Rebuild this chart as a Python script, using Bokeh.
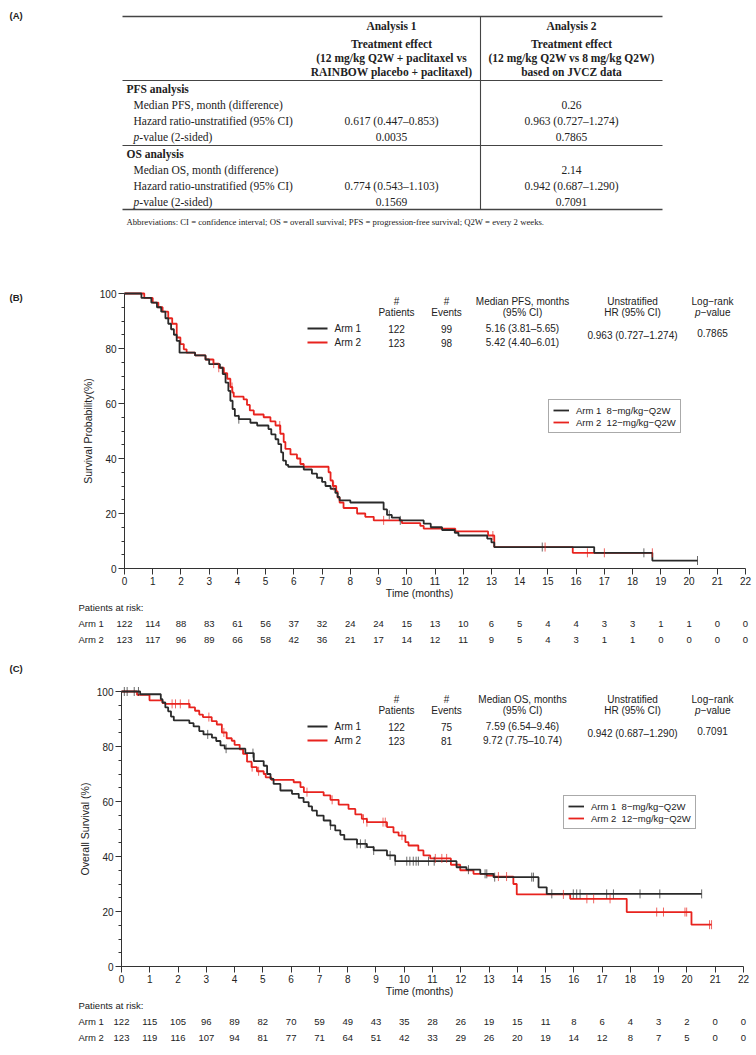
import math
from bokeh.plotting import figure
from bokeh.models import Range1d, Legend, LegendItem, FixedTicker
from bokeh.layouts import column
from bokeh.embed import file_html
from bokeh.resources import INLINE
from bokeh.core.properties import value

# ------------------------------------------------------------------ DATA
# (A) table
col_titles = ["Analysis 1", "Analysis 2"]
col1_head = ["Treatment effect", "(12 mg/kg Q2W + paclitaxel vs", "RAINBOW placebo + paclitaxel)"]
col2_head = ["Treatment effect", "(12 mg/kg Q2W vs 8 mg/kg Q2W)", "based on JVCZ data"]
pfs_row_labels = ["Median PFS, month (difference)", "Hazard ratio-unstratified (95% CI)", "p-value (2-sided)"]
pfs_col1 = ["", "0.617 (0.447\u20130.853)", "0.0035"]
pfs_col2 = ["0.26", "0.963 (0.727\u20131.274)", "0.7865"]
os_row_labels = ["Median OS, month (difference)", "Hazard ratio-unstratified (95% CI)", "p-value (2-sided)"]
os_col1 = ["", "0.774 (0.543\u20131.103)", "0.1569"]
os_col2 = ["2.14", "0.942 (0.687\u20131.290)", "0.7091"]
abbrev_text = ("Abbreviations: CI = confidence interval; OS = overall survival; "
               "PFS = progression-free survival; Q2W = every 2 weeks.")

# KM time axis
months = list(range(0, 23))
arm_labels = ["Arm 1", "Arm 2"]
legend_labels = ["Arm 1 \u00a08\u2212mg/kg\u2212Q2W", "Arm 2 \u00a012\u2212mg/kg\u2212Q2W"]

# (B) PFS
pfs_t1 = [0, 0.6, 0.95, 1.15, 1.3, 1.45, 1.55, 1.65, 1.75, 1.85, 1.95, 2.5, 2.87, 3.0, 3.38, 3.48, 3.58, 3.68,
          3.75, 3.83, 3.91, 4.05, 4.46, 4.7, 5.1, 5.2, 5.35, 5.45, 5.55, 5.62, 5.72, 5.8, 6.35, 6.64, 6.82, 7.0,
          7.12, 7.3, 7.47, 7.55, 7.62, 8.0, 9.18, 9.3, 9.47, 9.75, 10.6, 10.85, 11.25, 11.7, 11.83, 12.85, 13.0,
          13.1, 16.64, 18.7, 20.3]
pfs_s1 = [100, 98.4, 96.7, 95, 93.4, 91, 89, 87, 85, 82.8, 78.5, 77.5, 76, 74.3, 73, 70.7, 67.6, 64.6,
          61, 58, 55.5, 54.3, 53, 52, 50.7, 48.8, 47, 45.2, 42.2, 39.2, 37.7, 37, 36, 34.5, 33, 31.5,
          30, 29, 27.5, 26, 24.8, 24, 21.5, 19.5, 18.5, 17.5, 16.3, 15, 14, 13, 12, 10.9, 9.5,
          7.8, 5.7, 2.9, 2.9]
pfs_t2 = [0, 0.7, 1.0, 1.2, 1.35, 1.55, 1.69, 1.85, 1.98, 2.1, 2.2, 2.5, 2.87, 3.15, 3.34, 3.52, 3.64, 3.75,
          3.82, 3.87, 4.22, 4.34, 4.44, 4.58, 4.93, 5.17, 5.35, 5.52, 5.64, 5.7, 5.88, 6.11, 6.23, 6.35, 7.23,
          7.3, 7.38, 7.5, 7.55, 7.62, 7.76, 8.24, 8.53, 8.83, 9.83, 10.48, 10.6, 11.72, 12.88, 13.1, 15.88, 18.7]
pfs_s2 = [100, 98.4, 96.7, 95, 93.4, 91, 89, 84, 81.6, 79.7, 78.5, 77.5, 76, 74.5, 73, 71, 69, 66,
          64, 62.5, 61.5, 59.5, 57.5, 56, 55, 53.5, 52, 49, 46, 43.5, 41.5, 40, 38, 37, 35,
          32, 30, 28, 25.8, 24, 22, 20, 18.8, 17.5, 16.5, 15.5, 14.5, 13.5, 12, 7.8, 5.7, 5.7]
pfs_cens1 = [4.05, 9.38, 9.77, 14.8, 18.4, 20.3]
pfs_cens2 = [3.16, 3.34, 3.81, 5.5, 7.41, 9.18, 13.05, 14.9, 16.4, 17.0, 18.7]
pfs_patients = [122, 123]
pfs_events = [99, 98]
pfs_medians = ["5.16 (3.81\u20135.65)", "5.42 (4.40\u20136.01)"]
pfs_hr = "0.963 (0.727\u20131.274)"
pfs_p = "0.7865"
pfs_risk1 = [122, 114, 88, 83, 61, 56, 37, 32, 24, 24, 15, 13, 10, 6, 5, 4, 4, 3, 3, 1, 1, 0, 0]
pfs_risk2 = [123, 117, 96, 89, 66, 58, 42, 36, 21, 17, 14, 12, 11, 9, 5, 4, 3, 1, 1, 0, 0, 0, 0]

# (C) OS
os_t1 = [0, 0.66, 1.39, 1.45, 1.55, 1.65, 1.75, 1.85, 2.4, 2.55, 2.75, 2.9, 3.2, 3.35, 3.5, 3.65, 4.38, 4.68,
         5.03, 5.15, 5.27, 5.38, 5.62, 6.03, 6.27, 6.44, 6.62, 6.74, 6.91, 7.15, 7.39, 7.56, 7.74, 7.88, 8.33,
         8.68, 8.92, 9.39, 9.68, 11.85, 12.2, 12.69, 13.16, 14.75, 15.04, 20.52]
os_s1 = [100, 99, 97.2, 96, 94.2, 92.8, 90.9, 89.5, 88.5, 87.3, 85.6, 84.4, 83.2, 82, 80.4, 79.2, 77.6, 74.7,
         73, 70, 68.2, 66.4, 64, 62.8, 61.3, 59.8, 58.2, 56.7, 54.9, 53.1, 51.3, 49.5, 47.9, 46.2, 44.6,
         43.4, 42.2, 40.4, 38.3, 36.1, 35.2, 33.7, 32.5, 28.8, 26.4, 26.4]
os_t2 = [0, 0.55, 0.99, 1.45, 1.55, 2.41, 2.6, 2.75, 2.88, 3.19, 3.37, 3.55, 3.72, 3.9, 4.0, 4.18, 4.3, 4.44,
         4.6, 4.79, 5.03, 5.1, 5.3, 6.09, 6.33, 6.45, 7.15, 7.39, 7.68, 8.03, 8.27, 8.5, 8.68, 9.39, 9.62, 9.8,
         10.04, 10.15, 10.5, 10.68, 10.92, 11.65, 11.98, 12.45, 12.92, 13.16, 13.86, 13.98, 15.87, 17.87,
         20.16, 20.87]
os_s2 = [100, 98.8, 96.8, 95.8, 95.5, 94.2, 93, 91.6, 90.7, 89.2, 88, 85.1, 83, 82.1, 80.6, 79, 77.3, 74.5,
         72.5, 71, 70, 68.8, 67.9, 67, 65.2, 63.4, 62.2, 60.6, 58.9, 57.3, 55.3, 53.7, 52.5, 50.7, 48.8, 47.6,
         45.2, 44, 42.2, 40.4, 39.3, 37, 35, 33.7, 33.1, 32.7, 30, 26.2, 24.6, 19.8,
         15.2, 15.2]
os_cens1 = [0.1, 0.2, 0.45, 0.6, 3.05, 3.7, 4.65, 7.39, 8.33, 8.45, 8.62, 8.92, 9.5, 9.68, 10.09, 10.2, 10.32,
            10.42, 10.5, 10.86, 11.06, 12.27, 12.86, 12.92, 13.2, 14.51, 14.57, 15.22, 15.98, 16.1, 16.22,
            17.16, 17.4, 18.34, 19.04, 20.52]
os_cens2 = [1.79, 1.91, 2.08, 2.38, 3.09, 3.62, 4.62, 4.85, 6.56, 7.45, 8.56, 8.68, 9.25, 9.33, 9.92, 11.1,
            11.33, 11.5, 13.33, 13.62, 15.63, 16.46, 16.7, 17.28, 18.93, 19.17, 19.93, 19.99, 20.8, 20.87]
os_patients = [122, 123]
os_events = [75, 81]
os_medians = ["7.59 (6.54\u20139.46)", "9.72 (7.75\u201310.74)"]
os_hr = "0.942 (0.687\u20131.290)"
os_p = "0.7091"
os_risk1 = [122, 115, 105, 96, 89, 82, 70, 59, 49, 43, 35, 28, 26, 19, 15, 11, 8, 6, 4, 3, 2, 0, 0]
os_risk2 = [123, 119, 116, 107, 94, 81, 77, 71, 64, 51, 42, 33, 29, 26, 20, 19, 14, 12, 8, 7, 5, 0, 0]

# ------------------------------------------------------------------ STYLE / LAYOUT
SANS = "Liberation Sans"
SERIF = "Liberation Serif"
INK = "#222222"
BLACK = "#2a2a2a"
RED = "#e8231e"
FIG_W = 752           # every figure's frame spans the whole figure (page px == canvas px)
YPU = 2.75            # px per survival-percent unit


def base_fig(height, xr, yr):
    f = figure(width=FIG_W, height=height, x_range=xr, y_range=yr, output_backend="svg",
               toolbar_location=None, min_border_left=0, min_border_right=0,
               min_border_top=0, min_border_bottom=0)
    f.grid.visible = False
    f.outline_line_color = None
    f.background_fill_color = "white"
    f.border_fill_color = "white"
    return f


def txt(f, x, y, s, size, font=SANS, align="center", style="normal", color=INK):
    f.text(x=[x], y=[y], text=[s], text_align=align, text_baseline="middle",
           text_font=value(font), text_font_size=size, text_font_style=style, text_color=color)


def surv_at(t, ts, ss):
    level = ss[0]
    for ti, si in zip(ts, ss):
        if ti <= t + 1e-9:
            level = si
        else:
            break
    return level


# ------------------------------------------------------------------ (A) TABLE  (coords = page px)
A_H = 262
A = base_fig(A_H, Range1d(0, FIG_W), Range1d(A_H, 0))
A.xaxis.visible = False
A.yaxis.visible = False
TL, TR, DIV = 122, 662, 480
C1, C2 = 391, 571
TS = "11.5px"
txt(A, 9, 15, "(A)", "9.5px", SANS, "left", "bold")
A.line([TL, TR], [16, 16], line_color="#444", line_width=1.4)
A.line([TL, TR], [80, 80], line_color="#444", line_width=1.1)
A.line([TL, TR], [145, 145], line_color="#444", line_width=1.1)
A.line([TL, TR], [209, 209], line_color="#444", line_width=1.4)
A.line([DIV, DIV], [16, 209], line_color="#444", line_width=1.1)
txt(A, C1, 25, col_titles[0], TS, SERIF, "center", "bold")
txt(A, C2, 25, col_titles[1], TS, SERIF, "center", "bold")
for i, yy in enumerate([43, 57, 71]):
    txt(A, C1, yy, col1_head[i], TS, SERIF, "center", "bold")
    txt(A, C2, yy, col2_head[i], TS, SERIF, "center", "bold")


def table_block(title, y_title, rows, c1, c2, y_rows):
    txt(A, 126, y_title, title, TS, SERIF, "left", "bold")
    for lb, v1, v2, yy in zip(rows, c1, c2, y_rows):
        if lb.startswith("p-value"):
            txt(A, 133, yy, "p", TS, SERIF, "left", "italic")
            txt(A, 138.8, yy, lb[1:], TS, SERIF, "left")
        else:
            txt(A, 133, yy, lb, TS, SERIF, "left")
        if v1:
            txt(A, C1, yy, v1, TS, SERIF)
        if v2:
            txt(A, C2, yy, v2, TS, SERIF)


table_block("PFS analysis", 88, pfs_row_labels, pfs_col1, pfs_col2, [104, 120, 136])
table_block("OS analysis", 153, os_row_labels, os_col1, os_col2, [169, 185, 201])
txt(A, 126, 221, abbrev_text, "8.7px", SERIF, "left")


# ------------------------------------------------------------------ KM PANELS (plot + risk table)
def km_panel(fig_top, fig_h, x0, x22, zero_py, tag, tag_py, ylab, med_title, t1, s1, t2, s2, c1, c2,
             patients, events, medians, hr, pv, risk1, risk2, leg_box):
    ppm = (x22 - x0) / 22.0
    S = lambda py: (zero_py - py) / YPU           # page y -> survival units
    M = lambda px: (px - x0) / ppm                # page x -> months
    p = base_fig(fig_h, Range1d(M(0), M(FIG_W)), Range1d(S(fig_top + fig_h), S(fig_top)))

    for ax in (p.xaxis[0], p.yaxis[0]):
        ax.fixed_location = 0
        ax.axis_line_color = "#333"
        ax.major_tick_line_color = "#333"
        ax.major_tick_in = 0
        ax.major_tick_out = 6
        ax.major_label_text_font = SANS
        ax.major_label_text_font_size = "10px"
        ax.major_label_text_color = INK
        ax.axis_label_text_font = SANS
        ax.axis_label_text_font_size = "10.5px"
        ax.axis_label_text_font_style = "normal"
        ax.axis_label_text_color = INK
    p.xaxis.ticker = FixedTicker(ticks=months)
    p.xaxis.minor_tick_line_color = None
    p.xaxis.major_label_standoff = 2
    p.xaxis.bounds = (0, 22)
    p.yaxis.ticker = FixedTicker(ticks=[0, 20, 40, 60, 80, 100], minor_ticks=list(range(0, 101, 5)))
    p.yaxis.minor_tick_line_color = "#333"
    p.yaxis.minor_tick_in = 0
    p.yaxis.minor_tick_out = 3
    p.yaxis.bounds = (0, 100)
    p.yaxis.major_label_standoff = 2
    p.yaxis.axis_label = ylab
    p.yaxis.axis_label_standoff = 3

    r2 = p.step(x=t2, y=s2, mode="after", line_color=RED, line_width=1.8)
    r1 = p.step(x=t1, y=s1, mode="after", line_color=BLACK, line_width=1.8)
    p.scatter(x=c2, y=[surv_at(t, t2, s2) for t in c2], marker="dash", angle=math.pi / 2, size=9,
              line_color=RED, line_alpha=0.7, line_width=1)
    p.scatter(x=c1, y=[surv_at(t, t1, s1) for t in c1], marker="dash", angle=math.pi / 2, size=9,
              line_color=BLACK, line_alpha=0.7, line_width=1)

    top100 = zero_py - 100 * YPU
    yo = lambda off: S(top100 + off)
    for cx, l1, l2 in [(396, "#", "Patients"), (446, "#", "Events"),
                       (522, med_title, "(95% CI)"), (632, "Unstratified", "HR (95% CI)")]:
        txt(p, M(cx), yo(8), l1, "10px")
        txt(p, M(cx), yo(19), l2, "10px")
    txt(p, M(712), yo(8), "Log\u2212rank", "10px")
    txt(p, M(694.5), yo(19), "p", "10px", SANS, "left", "italic")
    txt(p, M(700.2), yo(19), "\u2212value", "10px", SANS, "left")
    for i, col in enumerate([BLACK, RED]):
        yy = yo(35 + 14 * i)
        p.line([M(307), M(327)], [yy, yy], line_color=col, line_width=1.8)
        txt(p, M(334), yy, arm_labels[i], "10px", SANS, "left")
        txt(p, M(396), yy, str(patients[i]), "10px")
        txt(p, M(446), yy, str(events[i]), "10px")
        txt(p, M(522), yy, medians[i], "10px")
    txt(p, M(632), yo(42), hr, "10px")
    txt(p, M(712), yo(39), pv, "10px")

    leg = Legend(items=[LegendItem(label=legend_labels[0], renderers=[r1]),
                        LegendItem(label=legend_labels[1], renderers=[r2])],
                 location=(leg_box[0], fig_top + fig_h - leg_box[1]),
                 border_line_color="#555", border_line_width=1,
                 background_fill_alpha=1.0, padding=4, spacing=0, margin=0,
                 glyph_width=16, glyph_height=12, label_height=12, label_standoff=7,
                 label_text_font=SANS, label_text_font_size="9.5px", label_text_color=INK)
    p.add_layout(leg)

    # panel tag, x-axis title, risk table
    txt(p, M(9), S(tag_py), tag, "9.5px", SANS, "left", "bold")
    txt(p, M(419), S(zero_py + 24), "Time (months)", "10.5px")
    lx = M(78)
    txt(p, lx, S(zero_py + 39), "Patients at risk:", "9.5px", SANS, "left")
    for i, (vals, off) in enumerate([(risk1, 55), (risk2, 71)]):
        yy = S(zero_py + off)
        txt(p, lx, yy, arm_labels[i], "9.5px", SANS, "left")
        p.text(x=months, y=[yy] * len(months), text=[str(v) for v in vals], text_align="center",
               text_baseline="middle", text_font=value(SANS), text_font_size="9.5px", text_color=INK)
    return p


# B: page y 262..652, axis 0 at 568, x 0..22 -> 124..745
B = km_panel(262, 390, 124, 745, 568, "(B)", 297, "Survival Probability(%)", "Median PFS, months",
             pfs_t1, pfs_s1, pfs_t2, pfs_s2, pfs_cens1, pfs_cens2,
             pfs_patients, pfs_events, pfs_medians, pfs_hr, pfs_p, pfs_risk1, pfs_risk2, (548, 433))
# C: page y 652..1047, axis 0 at 966, x 0..22 -> 121..743
C = km_panel(652, 395, 121, 743, 966, "(C)", 668, "Overall Survival (%)", "Median OS, months",
             os_t1, os_s1, os_t2, os_s2, os_cens1, os_cens2,
             os_patients, os_events, os_medians, os_hr, os_p, os_risk1, os_risk2, (563, 829))

page = column(A, B, C, spacing=0)
open("out.html", "w").write(file_html(page, INLINE))
